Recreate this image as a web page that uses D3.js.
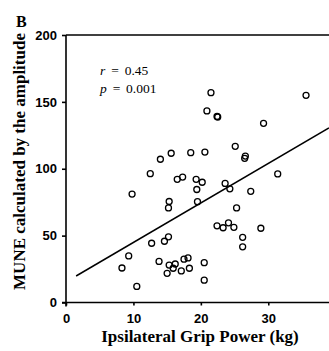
<!DOCTYPE html>
<html>
<head>
<meta charset="utf-8">
<script src="https://cdn.jsdelivr.net/npm/d3@7"></script>
<style>
  body { margin: 0; background: #fff; }
  svg { display: block; font-family: "Liberation Serif", "Times New Roman", serif; }
  .axis path, .axis line { stroke: #000; stroke-width: 1.6; }
  .axis text { font-size: 13px; font-weight: bold; fill: #000; }
</style>
</head>
<body>
<script>
// grip power (kg) vs MUNE
var gripKg = [21.5, 35.6, 20.9, 22.4, 22.5, 29.3, 25.1, 26.6, 26.5, 14.0,
              15.6, 18.5, 20.6, 12.5, 16.5, 17.3, 19.3, 20.2, 19.4, 23.6,
              24.3, 27.4, 31.4, 9.8, 15.3, 15.2, 19.5, 25.3, 22.4, 23.3,
              24.1, 24.9, 28.9, 26.2, 26.2, 12.7, 14.6, 15.2, 9.3, 8.3,
              13.8, 15.3, 16.2, 15.9, 15.0, 17.5, 18.1, 17.1, 18.3, 20.5,
              20.5, 10.5];
var mune = [156.9, 154.9, 143.2, 139.1, 138.7, 134.0, 116.8, 109.5, 107.8, 107.1,
            111.6, 112.0, 112.5, 96.3, 92.1, 93.8, 92.1, 89.9, 84.5, 89.0,
            85.0, 83.1, 96.1, 81.1, 75.5, 70.7, 75.4, 70.7, 57.3, 55.9,
            59.6, 56.2, 55.5, 48.7, 41.6, 44.3, 45.8, 49.1, 34.8, 25.8,
            30.7, 28.0, 28.8, 25.6, 21.8, 32.4, 33.3, 23.6, 25.6, 29.8,
            16.7, 12.0];

// regression line end points
var fitX = [1.5, 39];
var fitY = [19.8, 130.5];

var xTicks = [0, 10, 20, 30];
var yTicks = [0, 50, 100, 150, 200];

var W = 329, H = 351;

var x = d3.scaleLinear().domain([0, 40]).range([66, 335.7]);
var y = d3.scaleLinear().domain([0, 200]).range([302.5, 35]);

var svg = d3.select("body").append("svg")
    .attr("width", W)
    .attr("height", H);

// top frame line
svg.append("line")
    .attr("x1", x(0)).attr("x2", W)
    .attr("y1", y(200)).attr("y2", y(200))
    .attr("stroke", "#000").attr("stroke-width", 1.6);

svg.append("g")
    .attr("class", "x axis")
    .attr("transform", "translate(0," + y(0) + ")")
    .call(d3.axisBottom(x).tickValues(xTicks).tickSize(3).tickSizeOuter(0).tickPadding(8))
    .call(g => g.select(".domain").attr("d", "M" + (x(0) - 4) + ",0H" + W));

svg.append("g")
    .attr("class", "y axis")
    .attr("transform", "translate(" + x(0) + ",0)")
    .call(d3.axisLeft(y).tickValues(yTicks).tickSize(4).tickSizeOuter(0).tickPadding(5))
    .call(g => g.select(".domain").attr("d", "M0," + y(200) + "V" + (y(0) + 4)));

var line = d3.line()
    .x(d => x(d[0]))
    .y(d => y(d[1]));

svg.append("path")
    .datum(d3.zip(fitX, fitY))
    .attr("fill", "none")
    .attr("stroke", "#000")
    .attr("stroke-width", 1.5)
    .attr("d", line);

svg.selectAll(".dot")
    .data(d3.zip(gripKg, mune))
    .enter()
    .append("circle")
    .attr("class", "dot")
    .attr("cx", d => x(d[0]))
    .attr("cy", d => y(d[1]))
    .attr("r", 3)
    .attr("fill", "none")
    .attr("stroke", "#000")
    .attr("stroke-width", 1.3);

// stats
var stats = svg.append("g").attr("font-size", 13.5).attr("word-spacing", "2.5px");
var t1 = stats.append("text").attr("x", 100).attr("y", 75);
t1.append("tspan").attr("font-style", "italic").text("r");
t1.append("tspan").text(" = 0.45");
var t2 = stats.append("text").attr("x", 100).attr("y", 93);
t2.append("tspan").attr("font-style", "italic").text("p");
t2.append("tspan").text(" = 0.001");

// titles
svg.append("text")
    .attr("x", 16).attr("y", 27)
    .attr("font-size", 16).attr("font-weight", "bold")
    .text("B");

svg.append("text")
    .attr("x", 200).attr("y", 342)
    .attr("text-anchor", "middle")
    .attr("font-size", 17).attr("font-weight", "bold")
    .text("Ipsilateral Grip Power (kg)");

svg.append("text")
    .attr("transform", "translate(25,161.5) rotate(-90)")
    .attr("text-anchor", "middle")
    .attr("font-size", 17).attr("font-weight", "bold")
    .text("MUNE calculated by the amplitude");
</script>
</body>
</html>
